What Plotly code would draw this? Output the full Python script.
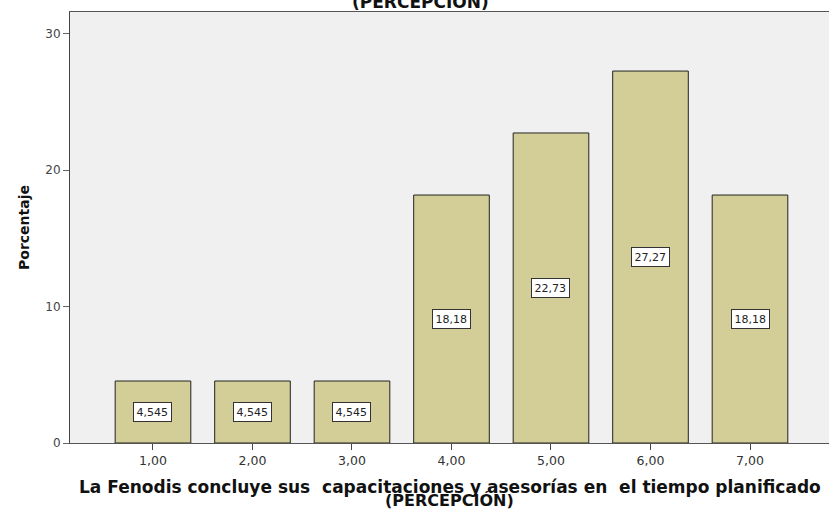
import plotly.graph_objects as go

categories = [1, 2, 3, 4, 5, 6, 7]
tick_labels = ["1,00", "2,00", "3,00", "4,00", "5,00", "6,00", "7,00"]
percentages = [4.545, 4.545, 4.545, 18.18, 22.73, 27.27, 18.18]
value_labels = ["4,545", "4,545", "4,545", "18,18", "22,73", "27,27", "18,18"]
y_ticks = [0, 10, 20, 30]
x_title_1 = "La Fenodis concluye sus  capacitaciones y asesorías en  el tiempo planificado"
x_title_2 = "(PERCEPCIÓN)"

FONT = "DejaVu Sans, Verdana, sans-serif"

fig = go.Figure()
fig.add_trace(go.Bar(
    x=categories, y=percentages, width=0.76,
    marker=dict(color="#D3CE97", line=dict(color="#222222", width=1)),
    hoverinfo="skip",
))

for c, v, lab in zip(categories, percentages, value_labels):
    fig.add_annotation(
        x=c, y=v / 2, xref="x", yref="y", text=lab, showarrow=False,
        font=dict(family=FONT, size=11, color="#222222"),
        bgcolor="white", bordercolor="#333333", borderwidth=1, borderpad=2.5,
    )

# top title (cut at the top edge as in the reference)
fig.add_annotation(
    x=0.462, y=1.0255, xref="paper", yref="paper", text="<b>" + x_title_2 + "</b>",
    showarrow=False, xanchor="center", yanchor="middle",
    font=dict(family=FONT, size=17, color="#111111"),
)
# x-axis title, two tight lines
fig.add_annotation(
    x=0.5, y=(443 - 487) / 431, xref="paper", yref="paper", text="<b>" + x_title_1 + "</b>",
    showarrow=False, xanchor="center", yanchor="middle",
    font=dict(family=FONT, size=17, color="#111111"),
)
fig.add_annotation(
    x=0.5, y=(443 - 500) / 431, xref="paper", yref="paper", text="<b>" + x_title_2 + "</b>",
    showarrow=False, xanchor="center", yanchor="middle",
    font=dict(family=FONT, size=16, color="#111111"),
)

fig.update_layout(
    width=829, height=511,
    margin=dict(l=70, r=0, t=12, b=68),
    paper_bgcolor="white", plot_bgcolor="#F0F0F0",
    showlegend=False,
    font=dict(family=FONT),
    xaxis=dict(
        range=[0.166, 7.794], tickmode="array", tickvals=categories, ticktext=tick_labels,
        ticks="outside", ticklen=6, tickcolor="#444444", tickwidth=1,
        tickfont=dict(family=FONT, size=12.5, color="#333333"),
        showline=True, linecolor="#555555", linewidth=1, mirror=True,
        showgrid=False, zeroline=False,
    ),
    yaxis=dict(
        range=[0, 31.6], tickmode="array", tickvals=y_ticks, ticktext=[str(t) for t in y_ticks],
        ticks="outside", ticklen=6, tickcolor="#666666", tickwidth=1,
        tickfont=dict(family=FONT, size=12, color="#444444"),
        showline=True, linecolor="#444444", linewidth=1, mirror=False,
        showgrid=False, zeroline=False,
        title=dict(text="<b>Porcentaje</b>", font=dict(family=FONT, size=14, color="#111111"), standoff=12),
    ),
)

fig.write_html("out.html")
